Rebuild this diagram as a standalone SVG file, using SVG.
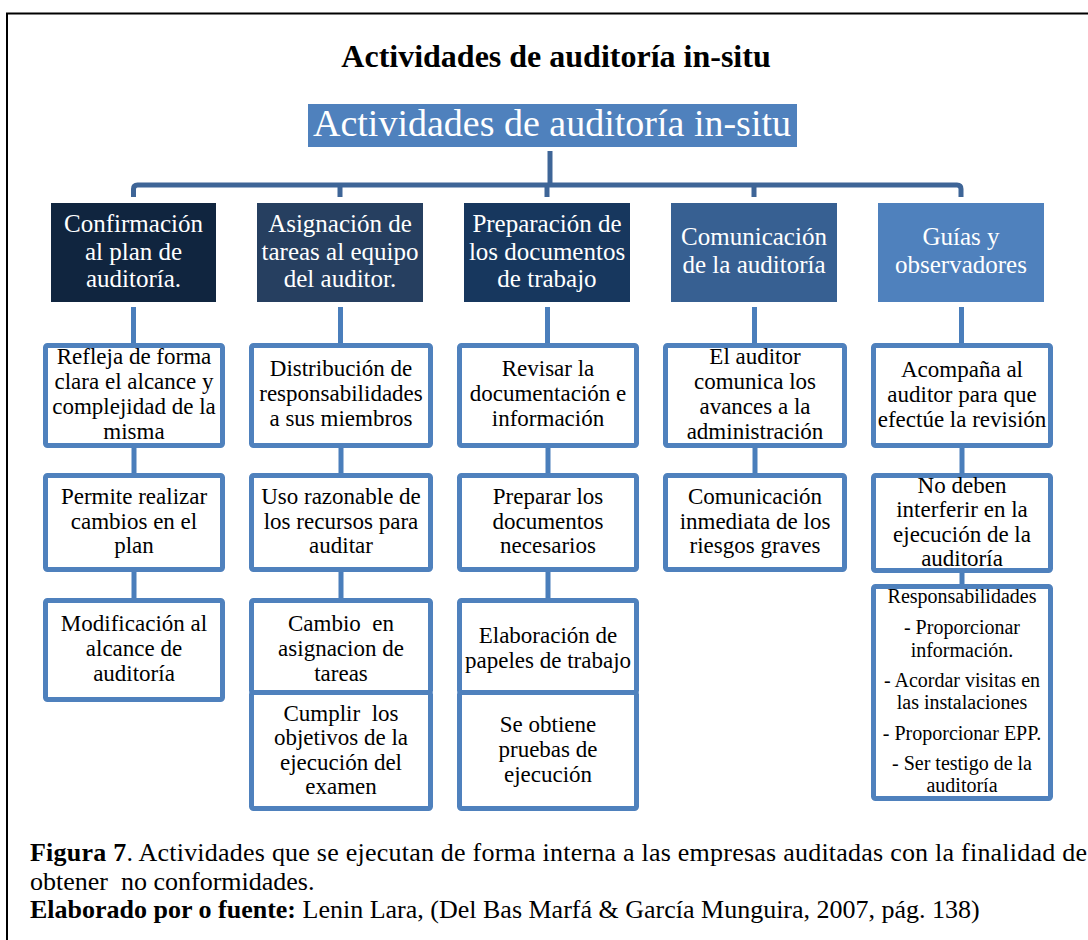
<svg xmlns="http://www.w3.org/2000/svg" width="1088" height="940" viewBox="0 0 1088 940">
  <style>
    .frame { fill: none; stroke: #000; stroke-width: 2; }
    .title { font-family: "Liberation Serif", "Times New Roman", serif; font-weight: bold; font-size: 32px; fill: #000; text-anchor: middle; }
    .root-txt { font-family: "Liberation Serif", "Times New Roman", serif; font-size: 38px; fill: #fff; text-anchor: middle; }
    .l1-txt { font-family: "Liberation Serif", "Times New Roman", serif; font-size: 25px; fill: #fff; text-anchor: middle; }
    .box { fill: #fff; stroke: #4F81BD; stroke-width: 5; }
    .box-txt { font-family: "Liberation Serif", "Times New Roman", serif; font-size: 23px; fill: #000; text-anchor: middle; }
    .small-txt { font-family: "Liberation Serif", "Times New Roman", serif; font-size: 20px; fill: #000; text-anchor: middle; }
    .bus { fill: none; stroke: #3E6597; stroke-width: 5; stroke-linejoin: round; }
    .link { fill: none; stroke: #4A7EBB; stroke-width: 5; }
    .caption { font-family: "Liberation Serif", "Times New Roman", serif; font-size: 26px; fill: #000; }
    .b { font-weight: bold; }
  </style>

  <!-- page frame -->
  <path class="frame" d="M7,940 V13.5 H1088"/>

  <text class="title" x="556" y="67">Actividades de auditoría in-situ</text>

  <!-- connectors -->
  <g id="connectors">
    <path class="bus" d="M550,151 V185"/>
    <path class="bus" d="M133.5,197 V189 Q133.5,185 137.5,185 H957 Q961,185 961,189 V197"/>
    <path class="bus" d="M340,185 V197 M547,185 V197 M754,185 V197"/>
    <!-- level 1 to first detail box -->
    <path class="link" d="M133.5,307 V345 M340.5,307 V345 M547.5,307 V345 M754.5,307 V345 M961.5,307 V345"/>
    <!-- between detail boxes -->
    <path class="link" d="M134,448 V475 M134,572 V600"/>
    <path class="link" d="M341,448 V475 M341,572 V600"/>
    <path class="link" d="M548,448 V475 M548,572 V600"/>
    <path class="link" d="M755,448 V475"/>
    <path class="link" d="M962,448 V475 M962,573 V586"/>
  </g>

  <!-- root -->
  <g id="root">
    <rect x="308" y="104" width="489" height="43" fill="#4F81BD"/>
    <text class="root-txt" x="552" y="136">Actividades de auditoría in-situ</text>
  </g>

  <!-- level 1 -->
  <g id="n-confirmacion">
    <rect x="51" y="203" width="165" height="99" fill="#10253F"/>
    <text class="l1-txt" x="133.5"><tspan x="133.5" y="232">Confirmación</tspan><tspan x="133.5" y="260">al plan de</tspan><tspan x="133.5" y="287">auditoría.</tspan></text>
  </g>
  <g id="n-asignacion">
    <rect x="257" y="203" width="166" height="99" fill="#263F60"/>
    <text class="l1-txt" x="340"><tspan x="340" y="232">Asignación de</tspan><tspan x="340" y="260">tareas al equipo</tspan><tspan x="340" y="287">del auditor.</tspan></text>
  </g>
  <g id="n-preparacion">
    <rect x="464" y="203" width="166" height="99" fill="#17375E"/>
    <text class="l1-txt" x="547"><tspan x="547" y="232">Preparación de</tspan><tspan x="547" y="260">los documentos</tspan><tspan x="547" y="287">de trabajo</tspan></text>
  </g>
  <g id="n-comunicacion">
    <rect x="671" y="203" width="166" height="99" fill="#376092"/>
    <text class="l1-txt" x="754"><tspan x="754" y="245">Comunicación</tspan><tspan x="754" y="273">de la auditoría</tspan></text>
  </g>
  <g id="n-guias">
    <rect x="878" y="203" width="166" height="99" fill="#4F81BD"/>
    <text class="l1-txt" x="961"><tspan x="961" y="245">Guías y</tspan><tspan x="961" y="273">observadores</tspan></text>
  </g>

  <!-- column 1 details -->
  <g id="c1-refleja">
    <rect class="box" x="45.5" y="345.5" width="177" height="100" rx="2"/>
    <text class="box-txt"><tspan x="134" y="363.5">Refleja de forma</tspan><tspan x="134" y="388.5">clara el alcance y</tspan><tspan x="134" y="413.5">complejidad de la</tspan><tspan x="134" y="438.5">misma</tspan></text>
  </g>
  <g id="c1-permite">
    <rect class="box" x="45.5" y="475.5" width="177" height="94" rx="2"/>
    <text class="box-txt"><tspan x="134" y="504">Permite realizar</tspan><tspan x="134" y="529">cambios en el</tspan><tspan x="134" y="553">plan</tspan></text>
  </g>
  <g id="c1-modificacion">
    <rect class="box" x="45.5" y="600.5" width="177" height="99" rx="2"/>
    <text class="box-txt"><tspan x="134" y="631">Modificación al</tspan><tspan x="134" y="656">alcance de</tspan><tspan x="134" y="681">auditoría</tspan></text>
  </g>

  <!-- column 2 details -->
  <g id="c2-distribucion">
    <rect class="box" x="251.5" y="345.5" width="179" height="100" rx="2"/>
    <text class="box-txt"><tspan x="341" y="376">Distribución de</tspan><tspan x="341" y="401">responsabilidades</tspan><tspan x="341" y="426">a sus miembros</tspan></text>
  </g>
  <g id="c2-uso">
    <rect class="box" x="251.5" y="475.5" width="179" height="94" rx="2"/>
    <text class="box-txt"><tspan x="341" y="504">Uso razonable de</tspan><tspan x="341" y="529">los recursos para</tspan><tspan x="341" y="553">auditar</tspan></text>
  </g>
  <g id="c2-cambio">
    <rect class="box" x="251.5" y="600.5" width="179" height="92" rx="2"/>
    <text class="box-txt" xml:space="preserve"><tspan x="341" y="631">Cambio  en</tspan><tspan x="341" y="656">asignacion de</tspan><tspan x="341" y="681">tareas</tspan></text>
  </g>
  <g id="c2-cumplir">
    <rect class="box" x="251.5" y="692.5" width="179" height="116" rx="2"/>
    <text class="box-txt" xml:space="preserve"><tspan x="341" y="721">Cumplir  los</tspan><tspan x="341" y="745">objetivos de la</tspan><tspan x="341" y="770">ejecución del</tspan><tspan x="341" y="794">examen</tspan></text>
  </g>

  <!-- column 3 details -->
  <g id="c3-revisar">
    <rect class="box" x="459.5" y="345.5" width="177" height="100" rx="2"/>
    <text class="box-txt"><tspan x="548" y="376">Revisar la</tspan><tspan x="548" y="401">documentación e</tspan><tspan x="548" y="426">información</tspan></text>
  </g>
  <g id="c3-preparar">
    <rect class="box" x="459.5" y="475.5" width="177" height="94" rx="2"/>
    <text class="box-txt"><tspan x="548" y="504">Preparar los</tspan><tspan x="548" y="529">documentos</tspan><tspan x="548" y="553">necesarios</tspan></text>
  </g>
  <g id="c3-elaboracion">
    <rect class="box" x="459.5" y="600.5" width="177" height="92" rx="2"/>
    <text class="box-txt"><tspan x="548" y="643">Elaboración de</tspan><tspan x="548" y="668">papeles de trabajo</tspan></text>
  </g>
  <g id="c3-pruebas">
    <rect class="box" x="459.5" y="692.5" width="177" height="116" rx="2"/>
    <text class="box-txt"><tspan x="548" y="732">Se obtiene</tspan><tspan x="548" y="757">pruebas de</tspan><tspan x="548" y="782">ejecución</tspan></text>
  </g>

  <!-- column 4 details -->
  <g id="c4-avances">
    <rect class="box" x="665.5" y="345.5" width="179" height="100" rx="2"/>
    <text class="box-txt"><tspan x="755" y="363.5">El auditor</tspan><tspan x="755" y="388.5">comunica los</tspan><tspan x="755" y="413.5">avances a la</tspan><tspan x="755" y="438.5">administración</tspan></text>
  </g>
  <g id="c4-riesgos">
    <rect class="box" x="665.5" y="475.5" width="179" height="94" rx="2"/>
    <text class="box-txt"><tspan x="755" y="504">Comunicación</tspan><tspan x="755" y="529">inmediata de los</tspan><tspan x="755" y="553">riesgos graves</tspan></text>
  </g>

  <!-- column 5 details -->
  <g id="c5-acompana">
    <rect class="box" x="873.5" y="345.5" width="177" height="100" rx="2"/>
    <text class="box-txt"><tspan x="962" y="377">Acompaña al</tspan><tspan x="962" y="402">auditor para que</tspan><tspan x="962" y="427">efectúe la revisión</tspan></text>
  </g>
  <g id="c5-interferir">
    <rect class="box" x="873.5" y="475.5" width="177" height="95" rx="2"/>
    <text class="box-txt"><tspan x="962" y="493">No deben</tspan><tspan x="962" y="517">interferir en la</tspan><tspan x="962" y="542">ejecución de la</tspan><tspan x="962" y="566">auditoría</tspan></text>
  </g>
  <g id="c5-responsabilidades">
    <rect class="box" x="873.5" y="586.5" width="177" height="212" rx="2"/>
    <text class="small-txt"><tspan x="962" y="603">Responsabilidades</tspan><tspan x="962" y="634">- Proporcionar</tspan><tspan x="962" y="657">información.</tspan><tspan x="962" y="687">- Acordar visitas en</tspan><tspan x="962" y="709">las instalaciones</tspan><tspan x="962" y="740">- Proporcionar EPP.</tspan><tspan x="962" y="770">- Ser testigo de la</tspan><tspan x="962" y="792">auditoría</tspan></text>
  </g>

  <!-- caption (first line justified to the right edge) -->
  <g id="caption">
    <text class="caption" x="30" y="861" textLength="1057" lengthAdjust="spacing"><tspan class="b">Figura 7</tspan>. Actividades que se ejecutan de forma interna a las empresas auditadas con la finalidad de</text>
    <text class="caption" x="30" y="890" xml:space="preserve">obtener  no conformidades.</text>
    <text class="caption" x="30" y="918"><tspan class="b">Elaborado por o fuente:</tspan> Lenin Lara, (Del Bas Marfá &amp; García Munguira, 2007, pág. 138)</text>
  </g>
</svg>
